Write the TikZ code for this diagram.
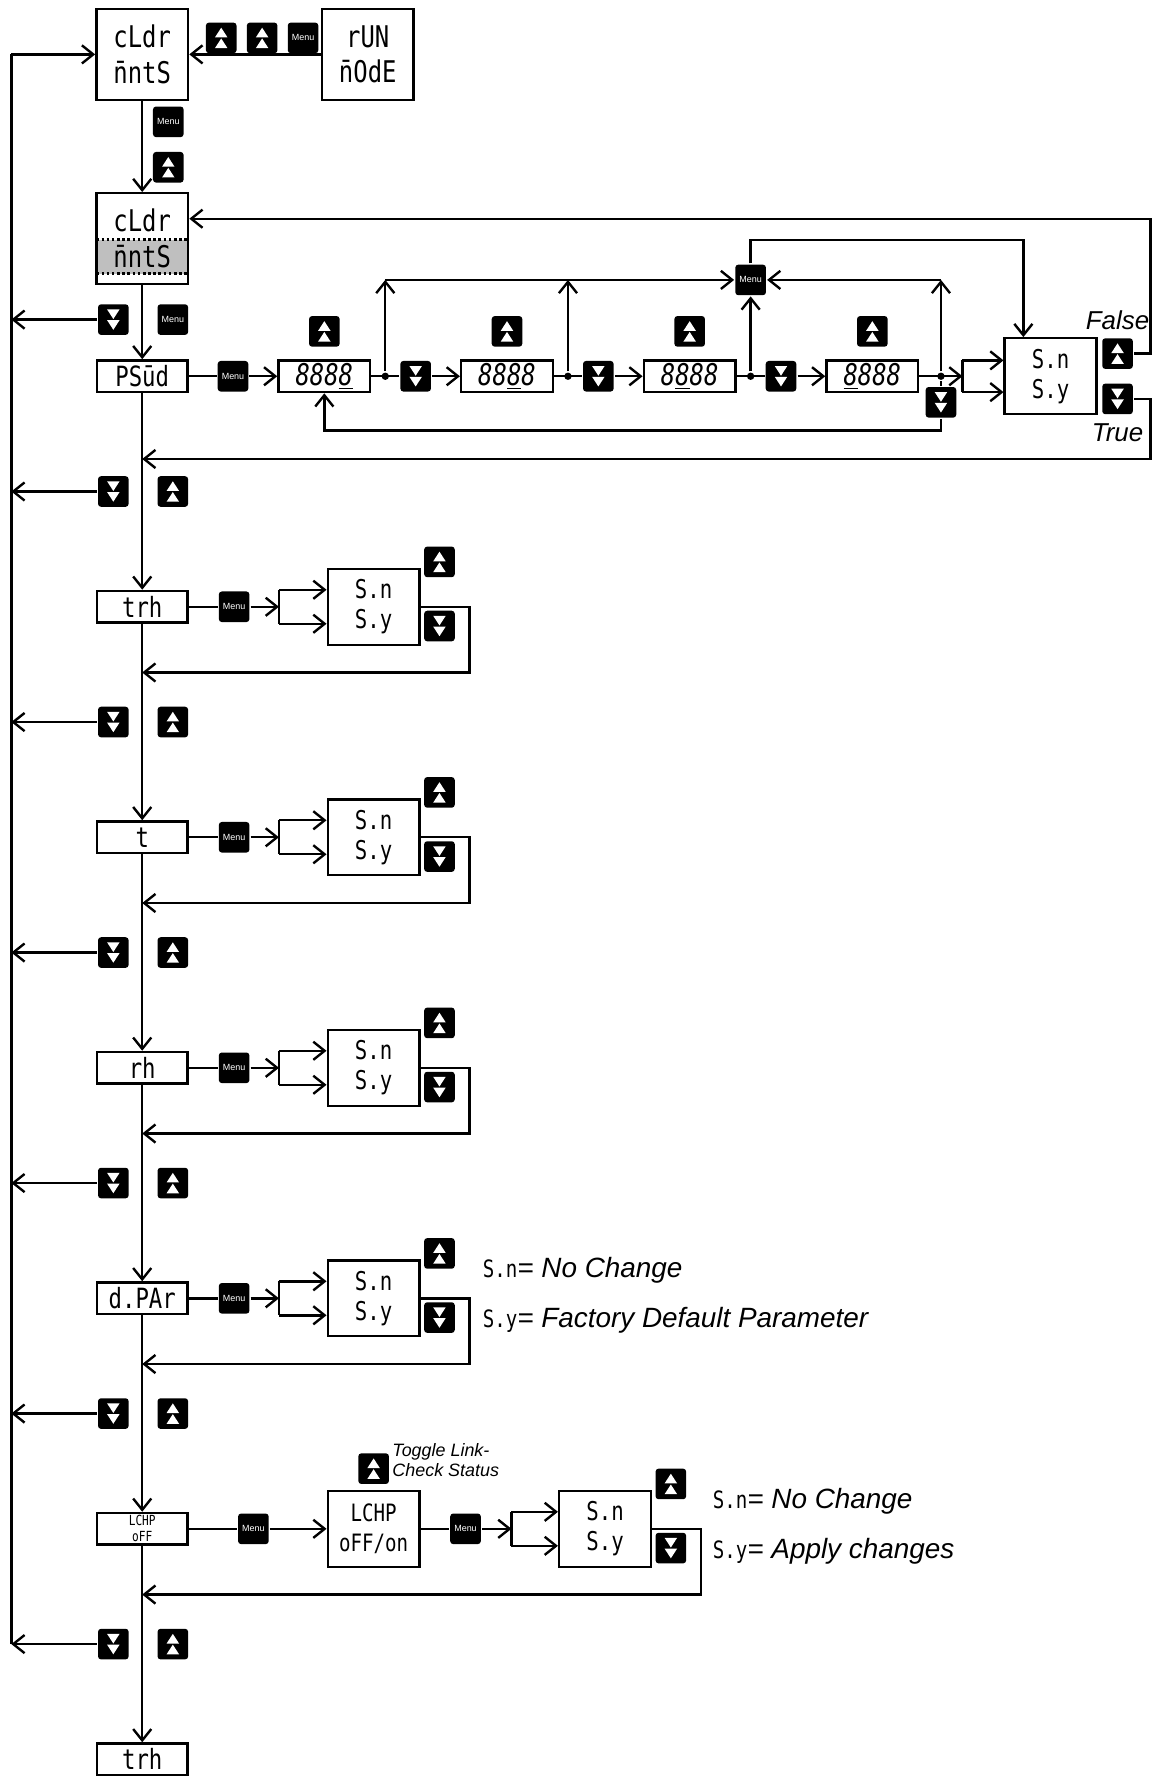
\documentclass[tikz,border=0pt]{standalone}
\usepackage{fontspec}
\setmainfont{Liberation Sans}
\newfontfamily\segfont{DejaVu Sans Mono}[FakeStretch=0.8]
\usetikzlibrary{arrows.meta,positioning,calc}
\tikzset{
  disp/.style    ={draw,minimum width=1.6cm,minimum height=0.56cm,inner sep=0.5pt,
                   font=\segfont\fontsize{14}{14}\selectfont},
  disptwo/.style ={disp,minimum width=1.62cm,minimum height=1.6cm,align=center,
                   font=\segfont\fontsize{15}{18}\selectfont},
  sel/.style     ={disp,minimum width=1.62cm,minimum height=1.34cm,align=center,
                   font=\segfont\fontsize{13}{15}\selectfont},
  digits/.style  ={disp,minimum width=1.62cm,font=\segfont\itshape\fontsize{15}{15}\selectfont},
  selband/.style ={path picture={
                   \fill[gray!50] ([yshift=-0.82cm]path picture bounding box.north west)
                     rectangle ([yshift=-1.42cm]path picture bounding box.north east);
                   \draw[line width=1.3pt,dash pattern=on 1.3pt off 1.3pt]
                     ([yshift=-0.82cm]path picture bounding box.north west) -- ++(2cm,0)
                     ([yshift=-1.42cm]path picture bounding box.north west) -- ++(2cm,0);}},
  btn/.style     ={fill=black,rounded corners=1.5pt,minimum size=0.54cm,inner sep=0pt},
  menubtn/.style ={btn,text=white,font=\fontsize{4.5}{5}\selectfont},
  upbtn/.style   ={btn,path picture={
                   \fill[white,sharp corners] ([shift={(-1.1mm,0.1mm)}]path picture bounding box.center)
                     -- ++(2.2mm,0) -- ++(-1.1mm,1.7mm) -- cycle
                     ([shift={(-1.1mm,-1.8mm)}]path picture bounding box.center)
                     -- ++(2.2mm,0) -- ++(-1.1mm,1.7mm) -- cycle;}},
  dnbtn/.style   ={btn,path picture={
                   \fill[white,sharp corners] ([shift={(-1.1mm,1.8mm)}]path picture bounding box.center)
                     -- ++(2.2mm,0) -- ++(-1.1mm,-1.7mm) -- cycle
                     ([shift={(-1.1mm,-0.1mm)}]path picture bounding box.center)
                     -- ++(2.2mm,0) -- ++(-1.1mm,-1.7mm) -- cycle;}},
  arr/.style     ={-{Straight Barb[length=2mm,width=3.2mm]}},
  jdot/.style    ={circle,fill,inner sep=0pt,minimum size=1.3mm},
  flag/.style    ={font=\itshape\fontsize{13}{13}\selectfont,inner sep=0pt},
  legtext/.style ={font=\itshape\fontsize{14}{16}\selectfont,anchor=west,inner sep=0pt},
}
\newcommand{\sg}[1]{{\segfont\upshape\fontsize{12}{12}\selectfont #1}}

\begin{document}
\begin{tikzpicture}[x=0.02cm,y=-0.02cm,line width=1.2pt,node distance=4.9mm]
\useasboundingbox (0,0) rectangle (1017,1568);
% entry
\node[disptwo] (cal1) at (125.5,48) {cLdr\\n̄ntS};
\node[disptwo] (run) at (324.5,48) {rUN\\n̄OdE};
\node[menubtn,anchor=south east] (m0) at ([xshift=-0.02cm]run.west) {Menu};
\node[upbtn,left=0.14cm of m0] (u0b) {};
\node[upbtn,left=0.14cm of u0b] (u0a) {};
\draw[arr] (run) -- (cal1);
\coordinate (lt) at (10,48); \coordinate (lb) at (10,1450.7);
\draw (lb) -- (lt); \draw[arr] (lt) -- (cal1);
\node[menubtn] (m1) at (148.5,107.5) {Menu};
\node[upbtn,below=0.22cm of m1] (u1) {};
\node[disptwo,selband] (cal2) at (125.5,210.5) {cLdr\\n̄ntS};
\draw[arr] (cal1) -- (cal2);
% password
\node[dnbtn] (d0) at (100,282) {}; \node[menubtn] (m2) at (152.5,282) {Menu};
\draw[arr] (d0) -- (d0 -| lt);
\node[disp] (psud) at (125.5,332) {PSūd};
\draw[arr] (cal2) -- (psud);
\node[menubtn,right=of psud] (m3) {Menu};
\node[digits,right=of m3] (dA) {888\underline{8}};
\node[dnbtn,right=of dA] (nA) {};
\node[digits,right=of nA] (dB) {88\underline{8}8};
\node[dnbtn,right=of dB] (nB) {};
\node[digits,right=of nB] (dC) {8\underline{8}88};
\node[dnbtn,right=of dC] (nC) {};
\node[digits,right=of nC] (dD) {\underline{8}888};
\node[upbtn,above=2mm of dA] (uA) {}; \node[upbtn,above=2mm of dB] (uB) {};
\node[upbtn,above=2mm of dC] (uC) {}; \node[upbtn,above=2mm of dD] (uD) {};
\node[jdot] (jA) at ($(dA.east)!0.5!(nA.west)$) {};
\node[jdot] (jB) at ($(dB.east)!0.5!(nB.west)$) {};
\node[jdot] (jC) at ($(dC.east)!0.5!(nC.west)$) {};
\node[jdot] (jD) at ([xshift=0.38cm]dD.east) {};
\coordinate (bar0) at ([xshift=0.76cm]dD.east);
\draw (psud) -- (m3); \draw[arr] (m3) -- (dA);
\draw (dA) -- (nA); \draw[arr] (nA) -- (dB);
\draw (dB) -- (nB); \draw[arr] (nB) -- (dC);
\draw (dC) -- (nC); \draw[arr] (nC) -- (dD);
\draw[arr] (dD) -- (bar0);
\node[sel] (sP) at (927,332) {S.n\\S.y};
\coordinate (b0t) at ($(bar0)+(0,-14)$); \coordinate (b0b) at ($(bar0)+(0,14)$);
\draw (b0t) -- (b0b);
\draw[arr] (b0t) -- (b0t -| sP.west); \draw[arr] (b0b) -- (b0b -| sP.west);
\coordinate (tl) at (0,247);
\node[menubtn] (mT) at (jC |- tl) {Menu};
\draw[arr] (jA) -- (jA |- mT); \draw[arr] (jA |- mT) -- (mT);
\draw[arr] (jB) -- (jB |- mT); \draw[arr] (jC) -- (mT);
\draw[arr] (jD) -- (jD |- mT); \draw[arr] (jD |- mT) -- (mT);
\coordinate (tp) at (903,212);
\draw[arr] (mT) |- (tp) -- (tp |- sP.north);
\node[dnbtn] (nD) at ([yshift=-0.46cm]jD) {};
\draw (jD) -- (nD);
\coordinate (lw) at (0,380);
\draw[arr] (nD) |- (dA.south |- lw) -- (dA.south);
\node[upbtn,anchor=north west] (fU) at ([xshift=0.06cm]sP.north east) {};
\node[dnbtn,anchor=south west] (tD) at ([xshift=0.06cm]sP.south east) {};
\node[flag,above=1mm of fU] (fl) {False};
\node[flag,below=1.2mm of tD] (tr) {True};
\coordinate (rA) at (1015,193); \coordinate (rB) at (1015,405);
\draw[arr] (fU) -| (rA) -- (rA -| cal2.east);
\draw[arr] (tD) -| (rB) -- (rB -| psud);
% trh
\node[dnbtn] (d1) at (100,433.7) {}; \node[upbtn] (e1) at (152.5,433.7) {};
\draw[arr] (d1) -- (d1 -| lt);
\node[disp] (trh) at (125.5,535.4) {trh};
\draw[arr] (psud) -- (trh);
\node[menubtn,right=0.51cm of trh] (m4) {Menu};
\coordinate (bar1) at ([xshift=0.5cm]m4.east);
\node[sel,right=0.84cm of bar1] (s1) {S.n\\S.y};
\node[upbtn,anchor=south west] (s1u) at ([shift={(0.04cm,-0.19cm)}]s1.north east) {};
\node[dnbtn,anchor=south west] (s1d) at ([shift={(0.04cm,0.06cm)}]s1.south east) {};
\coordinate (b1t) at ($(bar1)+(0,-15)$); \coordinate (b1b) at ($(bar1)+(0,15)$);
\coordinate (r1) at ($(s1.east)+(43,58)$);
\draw (trh) -- (m4); \draw[arr] (m4) -- (bar1); \draw (b1t) -- (b1b);
\draw[arr] (b1t) -- (b1t -| s1.west); \draw[arr] (b1b) -- (b1b -| s1.west);
\draw[arr] (s1) -| (r1) -- (r1 -| trh);
% t
\node[dnbtn] (d3) at (100,637.1) {}; \node[upbtn] (e3) at (152.5,637.1) {};
\draw[arr] (d3) -- (d3 -| lt);
\node[disp] (tt) at (125.5,738.8) {t};
\draw[arr] (trh) -- (tt);
\node[menubtn,right=0.51cm of tt] (m5) {Menu};
\coordinate (bar2) at ([xshift=0.5cm]m5.east);
\node[sel,right=0.84cm of bar2] (s2) {S.n\\S.y};
\node[upbtn,anchor=south west] (s2u) at ([shift={(0.04cm,-0.19cm)}]s2.north east) {};
\node[dnbtn,anchor=south west] (s2d) at ([shift={(0.04cm,0.06cm)}]s2.south east) {};
\coordinate (b2t) at ($(bar2)+(0,-15)$); \coordinate (b2b) at ($(bar2)+(0,15)$);
\coordinate (r2) at ($(s2.east)+(43,58)$);
\draw (tt) -- (m5); \draw[arr] (m5) -- (bar2); \draw (b2t) -- (b2b);
\draw[arr] (b2t) -- (b2t -| s2.west); \draw[arr] (b2b) -- (b2b -| s2.west);
\draw[arr] (s2) -| (r2) -- (r2 -| tt);
% rh
\node[dnbtn] (d5) at (100,840.5) {}; \node[upbtn] (e5) at (152.5,840.5) {};
\draw[arr] (d5) -- (d5 -| lt);
\node[disp] (rh) at (125.5,942.2) {rh};
\draw[arr] (tt) -- (rh);
\node[menubtn,right=0.51cm of rh] (m6) {Menu};
\coordinate (bar3) at ([xshift=0.5cm]m6.east);
\node[sel,right=0.84cm of bar3] (s3) {S.n\\S.y};
\node[upbtn,anchor=south west] (s3u) at ([shift={(0.04cm,-0.19cm)}]s3.north east) {};
\node[dnbtn,anchor=south west] (s3d) at ([shift={(0.04cm,0.06cm)}]s3.south east) {};
\coordinate (b3t) at ($(bar3)+(0,-15)$); \coordinate (b3b) at ($(bar3)+(0,15)$);
\coordinate (r3) at ($(s3.east)+(43,58)$);
\draw (rh) -- (m6); \draw[arr] (m6) -- (bar3); \draw (b3t) -- (b3b);
\draw[arr] (b3t) -- (b3t -| s3.west); \draw[arr] (b3b) -- (b3b -| s3.west);
\draw[arr] (s3) -| (r3) -- (r3 -| rh);
% d.PAr
\node[dnbtn] (d7) at (100,1043.9) {}; \node[upbtn] (e7) at (152.5,1043.9) {};
\draw[arr] (d7) -- (d7 -| lt);
\node[disp] (dpar) at (125.5,1145.6) {d.PAr};
\draw[arr] (rh) -- (dpar);
\node[menubtn,right=0.51cm of dpar] (m7) {Menu};
\coordinate (bar4) at ([xshift=0.5cm]m7.east);
\node[sel,right=0.84cm of bar4] (s4) {S.n\\S.y};
\node[upbtn,anchor=south west] (s4u) at ([shift={(0.04cm,-0.19cm)}]s4.north east) {};
\node[dnbtn,anchor=south west] (s4d) at ([shift={(0.04cm,0.06cm)}]s4.south east) {};
\coordinate (b4t) at ($(bar4)+(0,-15)$); \coordinate (b4b) at ($(bar4)+(0,15)$);
\coordinate (r4) at ($(s4.east)+(43,58)$);
\draw (dpar) -- (m7); \draw[arr] (m7) -- (bar4); \draw (b4t) -- (b4b);
\draw[arr] (b4t) -- (b4t -| s4.west); \draw[arr] (b4b) -- (b4b -| s4.west);
\draw[arr] (s4) -| (r4) -- (r4 -| dpar);
\node[legtext] (ln1) at (425,1121) {\sg{S.n}= No Change};
\node[legtext] (ln2) at (425,1165) {\sg{S.y}= Factory Default Parameter};
% LCHP
\node[dnbtn] (d9) at (100,1247.3) {}; \node[upbtn] (e9) at (152.5,1247.3) {};
\draw[arr] (d9) -- (d9 -| lt);
\node[disp,align=center,font=\segfont\fontsize{7}{8}\selectfont] (lchp) at (125.5,1349) {LCHP\\oFF};
\draw[arr] (dpar) -- (lchp);
\node[menubtn,right=0.85cm of lchp] (m8) {Menu};
\node[sel,right=1cm of m8,font=\segfont\fontsize{12}{15}\selectfont] (lk) {LCHP\\oFF/on};
\node[upbtn,above=0.08cm of lk] (lku) {};
\node[inner sep=0pt,anchor=west,align=left,font=\itshape\fontsize{9}{10}\selectfont]
  (tg) at ([shift={(0.02cm,0.15cm)}]lku.east) {Toggle Link-\\Check Status};
\node[menubtn,right=0.5cm of lk] (m9) {Menu};
\coordinate (bar9) at ([xshift=0.52cm]m9.east);
\node[sel,right=0.82cm of bar9] (s9) {S.n\\S.y};
\node[upbtn,anchor=south west] (s9u) at ([shift={(0.04cm,-0.19cm)}]s9.north east) {};
\node[dnbtn,anchor=south west] (s9d) at ([shift={(0.04cm,0.06cm)}]s9.south east) {};
\coordinate (b9t) at ($(bar9)+(0,-15)$); \coordinate (b9b) at ($(bar9)+(0,15)$);
\coordinate (r9) at ($(s9.east)+(43,58)$);
\draw (lchp) -- (m8); \draw[arr] (m8) -- (lk); \draw (lk) -- (m9);
\draw[arr] (m9) -- (bar9); \draw (b9t) -- (b9b);
\draw[arr] (b9t) -- (b9t -| s9.west); \draw[arr] (b9b) -- (b9b -| s9.west);
\draw[arr] (s9) -| (r9) -- (r9 -| lchp);
\node[legtext] (ln3) at (628,1325) {\sg{S.n}= No Change};
\node[legtext] (ln4) at (628,1369) {\sg{S.y}= Apply changes};
% back to trh
\node[dnbtn] (d11) at (100,1450.7) {}; \node[upbtn] (e11) at (152.5,1450.7) {};
\draw[arr] (d11) -- (lb);
\node[disp] (trhB) at (125.5,1552.4) {trh};
\draw[arr] (lchp) -- (trhB);
\end{tikzpicture}
\end{document}
